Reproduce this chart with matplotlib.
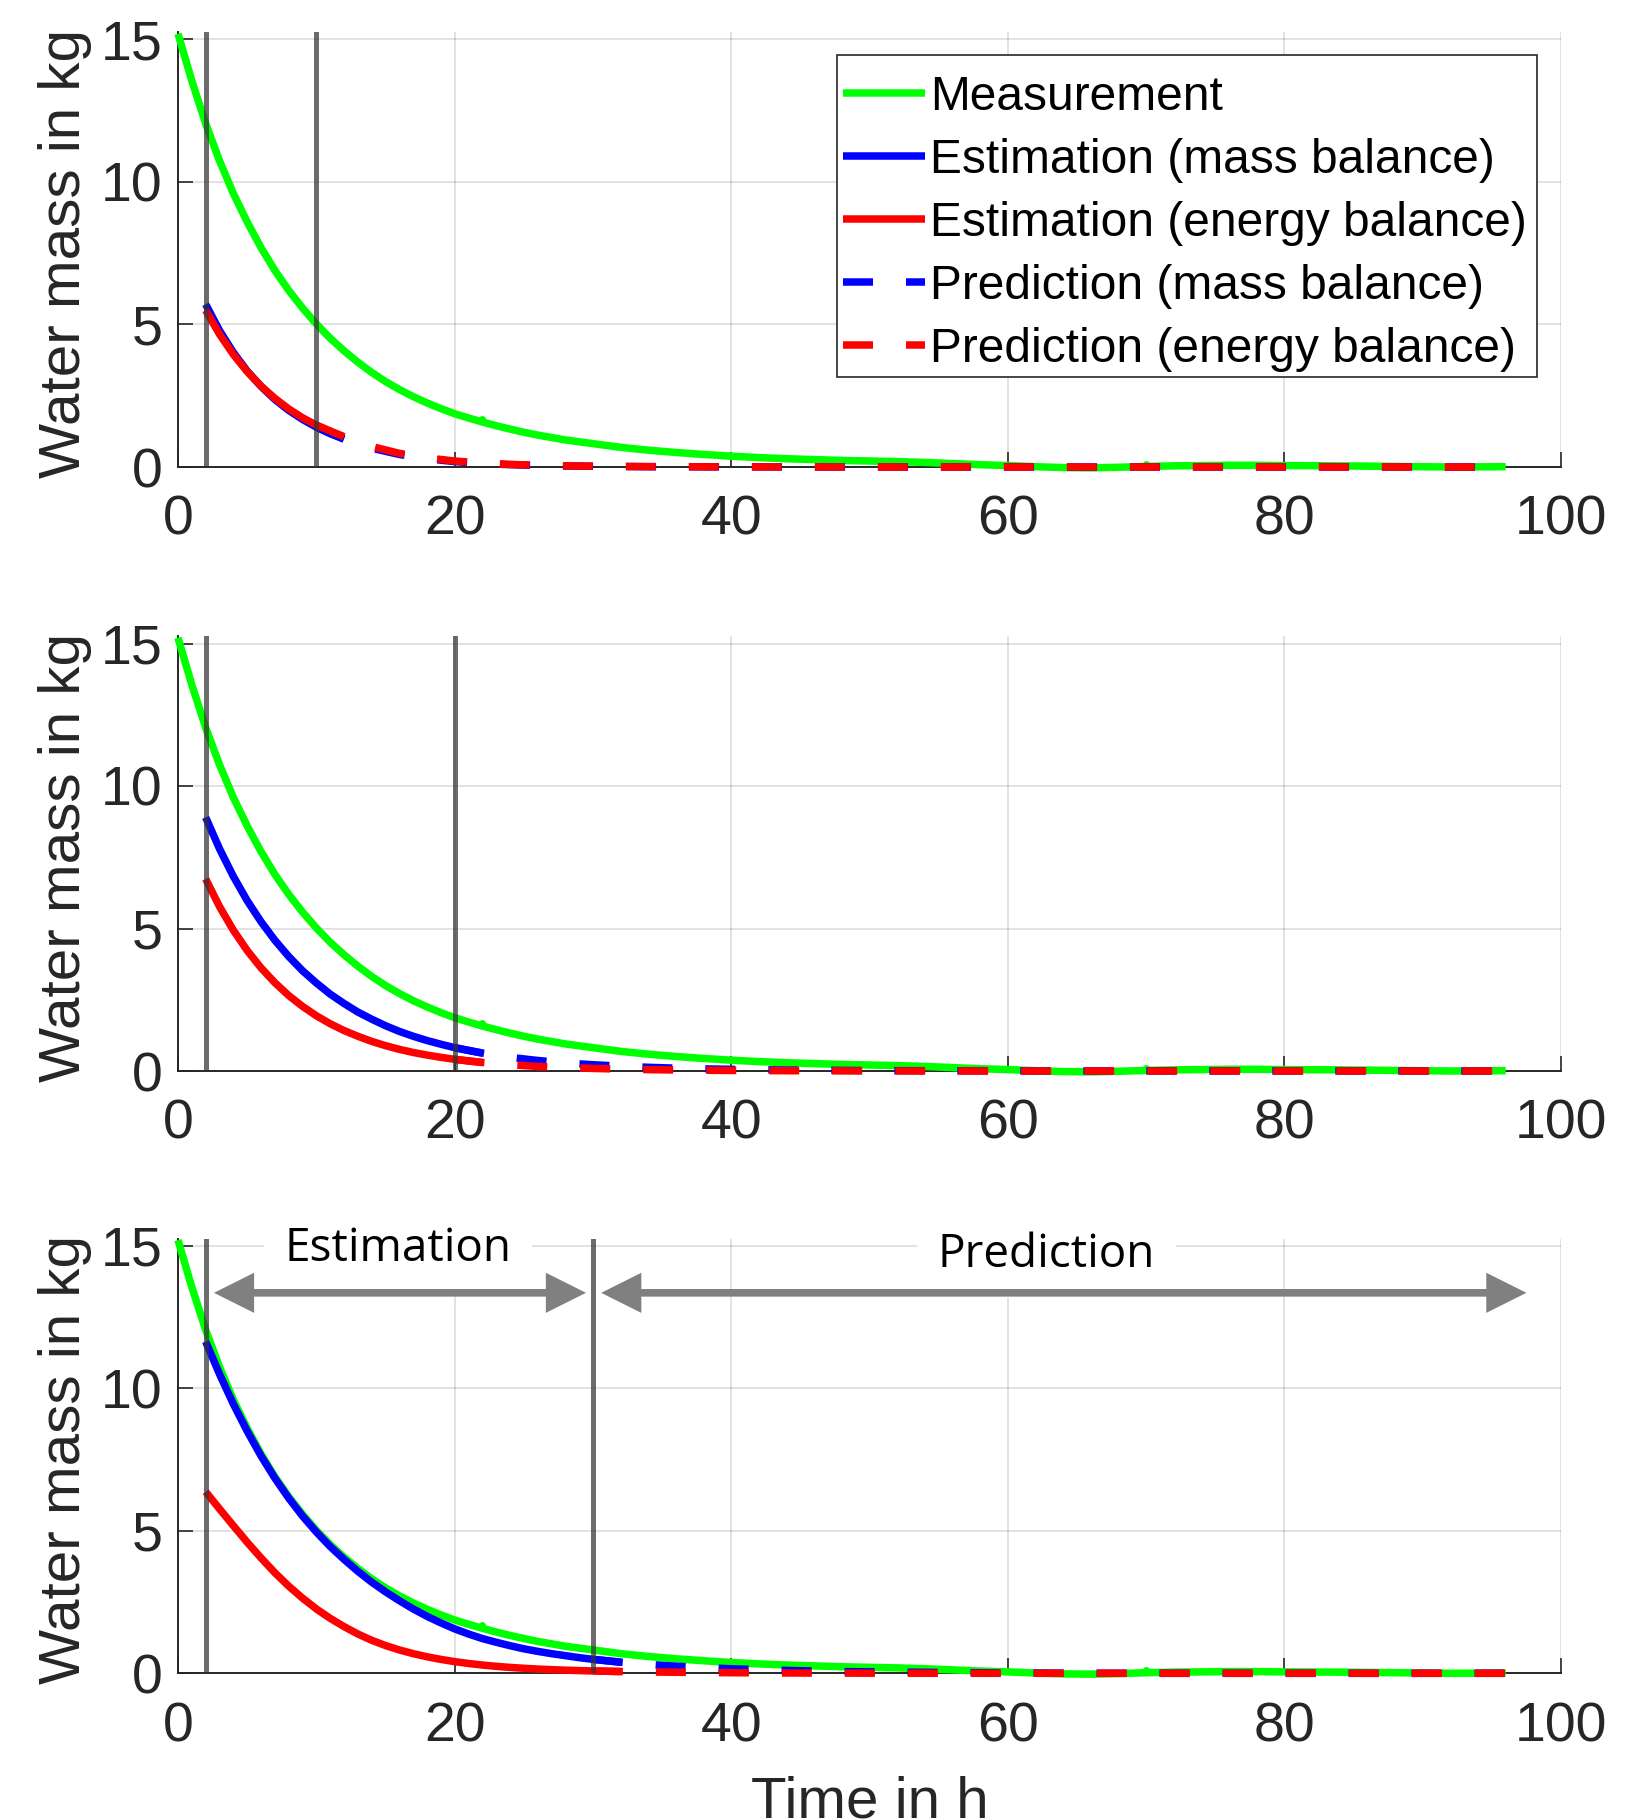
import matplotlib
matplotlib.use("Agg")
import matplotlib.pyplot as plt
from matplotlib.patches import FancyArrowPatch, Rectangle
from matplotlib.transforms import blended_transform_factory

plt.rcParams['font.family'] = ['Liberation Sans', 'DejaVu Sans']

# ---------------- data ----------------
meas_t = [0, 1, 2, 3, 4, 5, 6, 7, 8, 9, 10, 11, 12, 13, 14, 15, 16, 17, 18, 19, 20,
          21, 22, 23, 24, 25, 26, 28, 30, 32, 34, 36, 38, 40, 42, 44, 46, 48, 50, 52,
          54, 56, 58, 60, 62, 64, 66, 68, 70, 72, 74, 76, 78, 80, 84, 88, 92, 96]
meas_y = [15.2, 13.55, 12.05, 10.75, 9.6, 8.6, 7.7, 6.9, 6.2, 5.58, 5.02, 4.52, 4.08,
          3.68, 3.32, 3.0, 2.72, 2.47, 2.25, 2.05, 1.87, 1.72, 1.58, 1.45, 1.33, 1.22,
          1.12, 0.95, 0.82, 0.69, 0.59, 0.51, 0.44, 0.38, 0.33, 0.29, 0.26, 0.23, 0.21,
          0.19, 0.16, 0.12, 0.08, 0.05, 0.01, -0.02, -0.03, -0.01, 0.02, 0.04, 0.05,
          0.06, 0.06, 0.05, 0.04, 0.02, 0.0, 0.01]
meas_pts_t = [22, 70]
meas_pts_y = [1.70, 0.12]

# Panel 1 (estimation window 2 h - 10 h)
p1_window = [2, 10]
p1_est_t = [2, 3, 4, 5, 6, 7, 8, 9, 10, 11, 12]
p1_est_mass = [5.71, 4.79, 4.02, 3.37, 2.83, 2.37, 1.99, 1.67, 1.40, 1.17, 0.98]
p1_est_energy = [5.50, 4.66, 3.95, 3.35, 2.84, 2.41, 2.04, 1.73, 1.47, 1.25, 1.06]
p1_pred_t = [10, 12, 14, 16, 18, 20, 22, 24, 26, 28, 30, 34, 40, 50, 96]
p1_pred_mass = [1.40, 0.98, 0.66, 0.44, 0.29, 0.19, 0.125, 0.082, 0.054, 0.036, 0.025, 0.011, 0.004, 0.0, 0.0]
p1_pred_energy = [1.47, 1.06, 0.72, 0.48, 0.32, 0.21, 0.14, 0.092, 0.061, 0.041, 0.028, 0.013, 0.005, 0.0, 0.0]

# Panel 2 (estimation window 2 h - 20 h)
p2_window = [2, 20]
p2_est_t = [2, 3, 4, 5, 6, 7, 8, 9, 10, 11, 12, 13, 14, 15, 16, 17, 18, 19, 20, 21, 22]
p2_est_mass = [8.90, 7.80, 6.83, 5.98, 5.24, 4.59, 4.02, 3.52, 3.09, 2.70, 2.37, 2.07,
               1.82, 1.59, 1.39, 1.22, 1.07, 0.94, 0.82, 0.72, 0.63]
p2_est_energy = [6.74, 5.77, 4.94, 4.23, 3.62, 3.10, 2.65, 2.27, 1.94, 1.66, 1.42, 1.22,
                 1.04, 0.89, 0.76, 0.65, 0.56, 0.48, 0.41, 0.35, 0.30]
p2_pred_t = [20, 22, 24, 26, 28, 30, 32, 34, 36, 38, 40, 44, 50, 60, 96]
p2_pred_mass = [0.82, 0.63, 0.48, 0.37, 0.28, 0.22, 0.17, 0.13, 0.10, 0.075, 0.058, 0.034, 0.015, 0.003, 0.0]
p2_pred_energy = [0.41, 0.30, 0.22, 0.16, 0.12, 0.09, 0.066, 0.048, 0.035, 0.026, 0.019, 0.01, 0.004, 0.0, 0.0]

# Panel 3 (estimation window 2 h - 30 h)
p3_window = [2, 30]
p3_est_t = [2, 3, 4, 5, 6, 7, 8, 9, 10, 11, 12, 13, 14, 15, 16, 17, 18, 19, 20, 21, 22,
            23, 24, 25, 26, 27, 28, 29, 30, 31, 32]
p3_est_mass = [11.64, 10.5, 9.45, 8.5, 7.63, 6.85, 6.15, 5.52, 4.96, 4.45, 4.0, 3.58,
               3.2, 2.86, 2.55, 2.26, 2.0, 1.77, 1.56, 1.38, 1.22, 1.09, 0.97, 0.86,
               0.77, 0.69, 0.62, 0.55, 0.49, 0.44, 0.39]
p3_est_energy = [6.37, 5.77, 5.18, 4.60, 4.05, 3.53, 3.06, 2.64, 2.26, 1.93, 1.64, 1.38,
                 1.16, 0.975, 0.82, 0.69, 0.58, 0.488, 0.41, 0.345, 0.29, 0.245, 0.207,
                 0.176, 0.15, 0.128, 0.11, 0.095, 0.082, 0.071, 0.062]
p3_pred_t = [30, 32, 34, 36, 38, 40, 42, 44, 46, 48, 50, 55, 60, 70, 96]
p3_pred_mass = [0.49, 0.39, 0.31, 0.25, 0.20, 0.16, 0.13, 0.10, 0.08, 0.06, 0.05, 0.03, 0.01, 0.0, 0.0]
p3_pred_energy = [0.082, 0.062, 0.047, 0.036, 0.027, 0.02, 0.015, 0.011, 0.008, 0.006, 0.004, 0.002, 0.0, 0.0, 0.0]

panels = [
    (p1_window, p1_est_t, p1_est_mass, p1_est_energy, p1_pred_t, p1_pred_mass, p1_pred_energy),
    (p2_window, p2_est_t, p2_est_mass, p2_est_energy, p2_pred_t, p2_pred_mass, p2_pred_energy),
    (p3_window, p3_est_t, p3_est_mass, p3_est_energy, p3_pred_t, p3_pred_mass, p3_pred_energy),
]

x_ticks = [0, 20, 40, 60, 80, 100]
y_ticks = [0, 5, 10, 15]
legend_labels = ["Measurement", "Estimation (mass balance)", "Estimation (energy balance)",
                 "Prediction (mass balance)", "Prediction (energy balance)"]
ylabel = "Water mass in kg"
xlabel = "Time in h"
span_labels = ["Estimation", "Prediction"]

# ---------------- style ----------------
W, H = 1644, 1820
fig = plt.figure(figsize=(W / 100, H / 100), dpi=100)
left_px, right_px = 178, 1561
y0_px = [467, 1071, 1673.3]
unit_px = 28.5
ytop = 15.25
ax_h_px = unit_px * ytop
ax_w_px = right_px - left_px

GREEN = (0, 1, 0)
BLUE = (0, 0, 1)
RED = (1, 0, 0)
AXC = (0.15, 0.15, 0.15)
LW = 5.4
DASH = (4.0, 4.4)

axes = []
for i, (win, et, em, ee, pt, pm, pe) in enumerate(panels):
    bottom = 1 - y0_px[i] / H
    ax = fig.add_axes([left_px / W, bottom, ax_w_px / W, ax_h_px / H])
    axes.append(ax)
    ax.plot(meas_t, meas_y, color=GREEN, lw=LW, solid_capstyle='butt', zorder=3,
            label=legend_labels[0], clip_on=False)
    ax.plot(meas_pts_t, meas_pts_y, 'o', color=GREEN, ms=5, mew=0, zorder=3, clip_on=False)
    ax.plot(et, em, color=BLUE, lw=LW, solid_capstyle='butt', zorder=4,
            label=legend_labels[1], clip_on=False)
    ax.plot(et, ee, color=RED, lw=LW, solid_capstyle='butt', zorder=4,
            label=legend_labels[2], clip_on=False)
    ax.plot(pt, pm, color=BLUE, lw=LW, dashes=DASH, zorder=4,
            label=legend_labels[3], clip_on=False)
    ax.plot(pt, pe, color=RED, lw=LW, dashes=DASH, zorder=4,
            label=legend_labels[4], clip_on=False)
    for xv in win:
        ax.axvline(xv, color=(0.2, 0.2, 0.2), alpha=0.72, lw=3.6, zorder=6)

    ax.set_xlim(0, 100)
    ax.set_ylim(0, ytop)
    ax.set_xticks(x_ticks)
    ax.set_yticks(y_ticks)
    ax.grid(True, color=AXC, alpha=0.15, lw=1.3)
    ax.set_axisbelow(True)
    for s in ['top', 'right']:
        ax.spines[s].set_visible(False)
    for s in ['left', 'bottom']:
        ax.spines[s].set_color(AXC)
        ax.spines[s].set_linewidth(1.4)
    ax.tick_params(direction='in', length=10.5, width=1.2, color=AXC, labelcolor=AXC,
                   labelsize=40)
    ax.tick_params(axis='y', pad=11)
    ax.tick_params(axis='x', pad=20)
    ax.set_ylabel(ylabel, fontsize=42, color=AXC)
    ax.yaxis.set_label_coords((92 - left_px) / ax_w_px, 7.5,
                              transform=blended_transform_factory(ax.transAxes, ax.transData))

# legend on top panel: frame drawn separately for exact padding
ax1 = axes[0]
fx0 = (837 - left_px) / ax_w_px
fx1 = (1537 - left_px) / ax_w_px
fy0 = (467 - 377) / ax_h_px
fy1 = (467 - 55) / ax_h_px
frame = Rectangle((fx0, fy0), fx1 - fx0, fy1 - fy0, transform=ax1.transAxes,
                  facecolor='white', edgecolor=AXC, lw=1.2, zorder=9)
ax1.add_patch(frame)
leg = ax1.legend(loc='upper left',
                 bbox_to_anchor=((843 - left_px) / ax_w_px, (467 - 75) / ax_h_px),
                 borderaxespad=0, borderpad=0, fontsize=34.5, frameon=False,
                 handlelength=1.72, handletextpad=0.1, labelspacing=0.375)
leg.set_zorder(10)

# annotations on bottom panel
ax3 = axes[2]
ax3.text(15.9, 14.45, span_labels[0], fontsize=33, family=['Open Sans', 'DejaVu Sans'],
         ha='center', va='baseline', color='black', zorder=7,
         bbox=dict(boxstyle='square,pad=0.45', fc='white', ec='none'))
ax3.text(62.8, 14.27, span_labels[1], fontsize=33, family=['Open Sans', 'DejaVu Sans'],
         ha='center', va='baseline', color='black', zorder=7,
         bbox=dict(boxstyle='square,pad=0.45', fc='white', ec='none'))
for (xa, xb) in [(2.6, 29.5), (30.6, 97.5)]:
    arr = FancyArrowPatch((xa, 13.35), (xb, 13.35), arrowstyle='<|-|>', mutation_scale=50,
                          color=(0.5, 0.5, 0.5), lw=5.5, shrinkA=0, shrinkB=0,
                          joinstyle='miter', capstyle='butt', zorder=8, clip_on=False)
    ax3.add_patch(arr)

fig.text(((left_px + right_px) / 2) / W, 0.0012, xlabel, fontsize=42, color=AXC,
         ha='center', va='baseline')

fig.savefig("out.png", dpi=100)
